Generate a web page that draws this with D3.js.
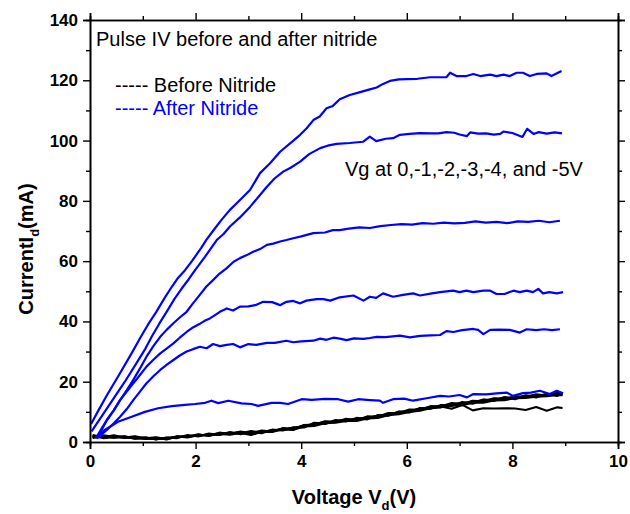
<!DOCTYPE html>
<html>
<head>
<meta charset="utf-8">
<script src="https://cdn.jsdelivr.net/npm/d3@7"></script>
<style>
  html, body { margin: 0; padding: 0; background: #fff; }
  svg { display: block; }
  text { font-family: Arial, "Liberation Sans", Helvetica, sans-serif; }
</style>
</head>
<body>
<svg id="chart" width="630" height="514"></svg>
<script>
// ---------------- DATA ----------------
const xMajorTicks = [0, 2, 4, 6, 8, 10];
const xMinorTicks = [1, 3, 5, 7, 9];
const yMajorTicks = [0, 20, 40, 60, 80, 100, 120, 140];
const yMinorTicks = [10, 30, 50, 70, 90, 110, 130];

const titleText = "Pulse IV before and after nitride";
const legendLabels = ["----- Before Nitride", "----- After Nitride"];
const noteText = "Vg at 0,-1,-2,-3,-4, and -5V";

// After nitride curves: [Vd, Id] for Vg = 0, -1, -2, -3, -4, -5 V
const after0 = [[0.02,6],[0.16,10.5],[0.32,15.5],[0.54,22],[0.79,29.5],[0.95,34.5],[1.1,39],[1.25,43],[1.42,48],[1.55,51.5],[1.67,54.5],[1.8,57],[1.93,60],[2.11,64.5],[2.2,67],[2.35,70.5],[2.49,73.7],[2.65,77],[2.84,80.3],[3.03,83.6],[3.22,89.2],[3.41,92.5],[3.6,96.3],[3.79,99.1],[3.98,101.9],[4.1,104],[4.23,106.8],[4.35,108],[4.48,110.7],[4.6,111.5],[4.73,113.7],[4.92,115.1],[5.1,116],[5.3,117],[5.43,117.6],[5.55,118.8],[5.68,119.8],[5.85,120.3],[6.0,120.4],[6.2,120.5],[6.44,121],[6.6,121],[6.75,121],[6.82,122.5],[6.94,121.4],[7.13,121.4],[7.26,122.1],[7.39,121.4],[7.58,121.9],[7.7,121.4],[7.83,121.9],[7.95,121.4],[8.08,122.5],[8.2,122.5],[8.33,121.4],[8.46,122.1],[8.65,122.3],[8.74,121.4],[8.93,123.1]];
const after1 = [[0.03,3.5],[0.22,8.5],[0.41,13.5],[0.66,20],[0.91,27],[1.05,31],[1.17,35],[1.32,39.5],[1.48,44],[1.6,47.5],[1.74,51],[1.87,54],[1.99,57],[2.18,61.5],[2.3,64.5],[2.4,67],[2.53,69],[2.65,71.5],[2.84,74.5],[3.03,78],[3.2,81.5],[3.35,84.7],[3.5,87.5],[3.66,89.7],[3.8,91],[3.98,93],[4.15,95.5],[4.36,97.5],[4.5,98.3],[4.67,98.9],[4.92,99.2],[5.17,99.6],[5.3,101.3],[5.42,99.8],[5.6,100.6],[5.74,100.8],[5.87,101.9],[6.05,102.2],[6.25,102.5],[6.45,102.4],[6.6,102.4],[6.75,102.8],[6.9,102.6],[7.0,102.0],[7.14,101.5],[7.2,102.7],[7.35,102.3],[7.5,102.4],[7.65,102.0],[7.77,102.2],[7.83,103],[8.0,102.5],[8.19,101.2],[8.28,103.9],[8.4,102.2],[8.5,102.8],[8.65,102.3],[8.8,102.7],[8.94,102.4]];
const after2 = [[0.13,1.8],[0.22,4.5],[0.32,7.3],[0.45,10.5],[0.57,13.9],[0.7,17.3],[0.82,20.6],[0.95,24.5],[1.07,28.3],[1.2,31.8],[1.33,34.9],[1.45,37.2],[1.58,39.4],[1.7,41.3],[1.83,43.2],[1.95,46],[2.08,48.8],[2.2,51.5],[2.33,53.7],[2.45,55.8],[2.59,57.7],[2.72,59.8],[2.84,61],[2.97,62],[3.09,63.1],[3.22,64],[3.35,65.4],[3.47,65.8],[3.6,66.5],[3.72,67],[3.85,67.6],[4.0,68.2],[4.23,69.3],[4.45,69.5],[4.6,70.3],[4.73,70.3],[4.9,70.8],[5.1,71.2],[5.3,71],[5.5,71.6],[5.7,72],[5.9,72.3],[6.1,72.1],[6.3,72.6],[6.5,72.4],[6.7,72.8],[6.9,72.5],[7.1,72.7],[7.3,73.2],[7.5,72.8],[7.7,73],[7.9,72.6],[8.1,73.2],[8.3,73],[8.5,73.4],[8.7,72.9],[8.9,73.4]];
const after3 = [[0.13,1.2],[0.22,4],[0.32,7.3],[0.45,10.5],[0.57,13.9],[0.7,16.8],[0.82,19.5],[0.95,22.3],[1.07,25],[1.2,27.3],[1.33,29.4],[1.45,31],[1.58,32.7],[1.7,34.6],[1.83,36.5],[1.95,38],[2.08,39.2],[2.17,40.2],[2.27,41],[2.36,42],[2.46,43.2],[2.59,44.3],[2.71,43.6],[2.84,44.9],[3.0,45],[3.13,45.4],[3.28,46.5],[3.45,46.4],[3.6,45.4],[3.72,46.5],[3.85,46.8],[3.98,46],[4.1,46.9],[4.29,47.4],[4.42,47.4],[4.55,46.9],[4.73,48],[4.99,48.6],[5.18,46.9],[5.3,48.2],[5.42,47.8],[5.55,49.3],[5.74,48.2],[5.93,48.8],[6.12,49.3],[6.25,48.6],[6.45,49.2],[6.63,49.7],[6.88,50.2],[7.0,49.7],[7.13,50.2],[7.26,49.7],[7.45,50.2],[7.58,50.2],[7.7,49.1],[7.85,49.1],[8.02,50.2],[8.14,49.7],[8.27,50.2],[8.39,49.7],[8.49,50.8],[8.58,49.3],[8.7,49.7],[8.84,49.3],[8.96,49.7]];
const after4 = [[0.13,1.2],[0.22,2.5],[0.32,4],[0.45,6.2],[0.57,8.4],[0.7,11],[0.82,13.9],[0.95,16.8],[1.07,19.5],[1.2,21.8],[1.33,23.9],[1.45,25.6],[1.58,27.2],[1.7,28.7],[1.83,30],[1.95,30.8],[2.08,31.6],[2.21,31.1],[2.33,32.5],[2.46,31.8],[2.59,32.2],[2.71,32.5],[2.84,31.4],[3.0,32.5],[3.15,32.2],[3.35,32.9],[3.5,32.9],[3.72,33.6],[3.85,33.1],[4.0,33.4],[4.23,33.6],[4.36,34.3],[4.48,33.9],[4.61,34.6],[4.73,34.3],[4.86,33.8],[5.0,34.4],[5.18,34.2],[5.3,34.5],[5.43,34.9],[5.6,34.8],[5.87,35.3],[6.06,34.7],[6.25,35.2],[6.45,35.4],[6.63,35.5],[6.75,36.8],[6.88,36.5],[7.05,37.1],[7.26,37.5],[7.35,37.2],[7.45,35.8],[7.58,37.2],[7.75,37.3],[7.95,37.2],[8.14,36.3],[8.27,37.4],[8.45,37.1],[8.6,37.4],[8.75,37.1],[8.9,37.4]];
const after5 = [[0.1,1.3],[0.28,4],[0.53,6.7],[0.79,8.4],[1.04,10],[1.29,11.2],[1.55,11.9],[1.8,12.3],[1.99,12.6],[2.18,13],[2.3,13.7],[2.43,12.9],[2.62,13.7],[2.87,12.8],[3.06,12.6],[3.18,12],[3.44,13],[3.6,13],[3.75,12.6],[4.01,14.2],[4.2,14],[4.45,14.3],[4.7,14.2],[4.89,13.4],[5.08,14.2],[5.3,13.9],[5.49,13.7],[5.55,13],[5.74,14.2],[5.95,14.4],[6.12,13.7],[6.4,14.6],[6.63,15.3],[6.8,15.1],[7.0,15.6],[7.14,14.8],[7.26,15.9],[7.5,15.8],[7.7,16.1],[7.89,16.4],[8.01,15.3],[8.2,16.2],[8.35,16.4],[8.52,17],[8.71,15.9],[8.84,17],[8.96,16.2]];

// Before nitride curves: shared Vd values, Id per curve
const beforeVd = [0.05,0.25,0.45,0.65,0.85,1.05,1.25,1.45,1.65,1.85,2.05,2.25,2.45,2.65,2.85,3.05,3.25,3.45,3.65,3.85,4.05,4.25,4.45,4.65,4.85,5.05,5.25,5.45,5.65,5.85,6.05,6.25,6.45,6.65,6.85,7.05,7.25,7.45,7.65,7.85,8.05,8.25,8.45,8.65,8.85,8.95];
const before0 = [2.3,1.6,2.2,1.5,1.9,1.2,1.6,1.0,1.9,1.7,2.6,2.0,3.1,2.6,3.5,2.9,3.8,3.5,4.6,4.3,5.6,5.8,6.9,6.6,7.7,7.2,8.5,8.4,9.6,9.6,10.8,10.7,11.9,11.8,12.9,12.6,13.7,13.5,14.5,14.3,15.2,14.9,15.8,15.4,16.3,16.0];
const before1 = [1.3,2.0,1.4,1.9,1.1,1.6,0.8,1.5,1.3,2.3,1.8,2.8,2.3,3.3,2.6,3.4,2.9,4.1,3.8,4.9,4.8,6.4,6.0,7.3,6.8,8.0,7.5,8.9,8.7,10.1,9.8,11.3,11.0,12.3,11.9,13.3,12.7,14.1,13.6,14.9,14.2,15.5,14.8,16.0,15.3,16.3];
const before2 = [2.1,1.5,1.9,1.3,1.7,1.0,1.4,0.8,1.8,1.5,2.4,2.1,2.7,2.4,3.0,2.3,3.4,3.3,4.2,4.0,5.2,5.3,6.2,6.4,7.0,7.0,7.8,8.0,8.9,9.2,10.0,10.4,11.2,11.5,12.1,12.2,13.0,13.0,13.8,13.9,14.5,14.6,15.0,15.2,15.6,15.5];
const before3 = [1.6,2.2,1.7,1.8,1.4,1.4,1.1,1.2,1.5,2.0,2.0,2.6,2.5,3.0,2.9,3.6,3.2,4.0,4.0,4.7,5.0,6.2,6.1,7.0,7.2,7.7,7.9,8.8,8.9,10.0,10.2,11.1,11.4,12.0,12.4,13.0,13.2,14.0,14.0,14.7,14.7,15.3,15.3,15.8,15.6,16.2];
const before4 = [1.9,1.3,1.6,1.6,1.2,1.3,0.9,1.4,1.6,1.8,2.3,2.3,2.9,2.8,3.3,2.5,3.6,3.6,4.5,4.4,5.6,5.7,6.7,6.7,7.4,7.3,8.2,8.3,9.4,9.4,10.6,10.6,11.7,11.6,12.7,12.5,13.5,13.4,14.3,14.2,15.0,14.8,15.6,15.3,16.1,15.8];
const before5 = [1.8,1.9,1.5,1.7,1.3,1.1,1.0,1.1,1.7,1.7,2.2,2.4,2.6,3.0,3.1,2.6,3.3,3.8,4.1,4.5,5.2,5.9,6.4,6.9,7.2,7.5,8.0,8.5,9.1,9.7,10.2,10.9,11.3,11.8,11.0,12.3,10.5,11.2,11.1,11.2,11.1,10.6,11.6,10.4,11.5,11.3];

const afterSeries = [after0, after1, after2, after3, after4, after5];
const beforeSeries = [before0, before1, before2, before3, before4, before5];

// ---------------- DRAW ----------------
const svg = d3.select("#chart");
const L = 90, R = 618, T = 20, B = 442;
const x = d3.scaleLinear().domain([0, 10]).range([L, R]);
const y = d3.scaleLinear().domain([0, 140]).range([B, T]);

const blue = "#0000ff";

const line = d3.line().x(d => x(d[0])).y(d => y(d[1]));

// before (black)
const gBefore = svg.append("g");
beforeSeries.forEach(s => {
  const pts = beforeVd.map((v, i) => [v, s[i]]);
  gBefore.append("path").attr("d", line(pts))
    .attr("fill", "none").attr("stroke", "#000").attr("stroke-width", 2.1)
    .attr("stroke-linejoin", "round");
});

// after (blue)
const gAfter = svg.append("g");
afterSeries.forEach(s => {
  gAfter.append("path").attr("d", line(s))
    .attr("fill", "none").attr("stroke", blue).attr("stroke-width", 2.2)
    .attr("stroke-linejoin", "round");
});

// axes
const tickFont = "bold 17px Arial, 'Liberation Sans', sans-serif";
function styleAxis(g) {
  g.selectAll(".domain").attr("stroke", "#000").attr("stroke-width", 1.6);
  g.selectAll(".tick line").attr("stroke", "#000").attr("stroke-width", 1.4);
  g.selectAll(".tick text").style("font", tickFont).attr("fill", "#000");
}

// bottom
const xb = svg.append("g").attr("transform", `translate(0,${B})`)
  .call(d3.axisBottom(x).tickValues(xMajorTicks).tickSize(7).tickPadding(6).tickFormat(d3.format("d")));
styleAxis(xb);
const xbm = svg.append("g").attr("transform", `translate(0,${B})`)
  .call(d3.axisBottom(x).tickValues(xMinorTicks).tickSize(4).tickFormat(""));
styleAxis(xbm);
// top
const xt = svg.append("g").attr("transform", `translate(0,${T})`)
  .call(d3.axisTop(x).tickValues(xMajorTicks).tickSize(7).tickFormat(""));
styleAxis(xt);
const xtm = svg.append("g").attr("transform", `translate(0,${T})`)
  .call(d3.axisTop(x).tickValues(xMinorTicks).tickSize(4).tickFormat(""));
styleAxis(xtm);
// left
const yl = svg.append("g").attr("transform", `translate(${L},0)`)
  .call(d3.axisLeft(y).tickValues(yMajorTicks).tickSize(7).tickPadding(5).tickFormat(d3.format("d")));
styleAxis(yl);
const ylm = svg.append("g").attr("transform", `translate(${L},0)`)
  .call(d3.axisLeft(y).tickValues(yMinorTicks).tickSize(4).tickFormat(""));
styleAxis(ylm);
// right
const yr = svg.append("g").attr("transform", `translate(${R},0)`)
  .call(d3.axisRight(y).tickValues(yMajorTicks).tickSize(7).tickFormat(""));
styleAxis(yr);
const yrm = svg.append("g").attr("transform", `translate(${R},0)`)
  .call(d3.axisRight(y).tickValues(yMinorTicks).tickSize(4).tickFormat(""));
styleAxis(yrm);

// axis titles
const xt1 = svg.append("text")
  .attr("x", (L + R) / 2).attr("y", 504)
  .attr("text-anchor", "middle")
  .style("font", "bold 20px Arial, 'Liberation Sans', sans-serif");
xt1.append("tspan").text("Voltage V");
xt1.append("tspan").attr("dy", 6).style("font-size", "13px").text("d");
xt1.append("tspan").attr("dy", -6).text("(V)");

const yt1 = svg.append("text")
  .attr("transform", `translate(33,${(T + B) / 2 + 18}) rotate(-90)`)
  .attr("text-anchor", "middle")
  .style("font", "bold 20px Arial, 'Liberation Sans', sans-serif");
yt1.append("tspan").text("CurrentI");
yt1.append("tspan").attr("dy", 6).style("font-size", "13px").text("d");
yt1.append("tspan").attr("dy", -6).text("(mA)");

// annotations
const annFont = "20px Arial, 'Liberation Sans', sans-serif";
svg.append("text").attr("x", 96).attr("y", 46).style("font", annFont).attr("fill", "#000").text(titleText);
svg.append("text").attr("x", 115).attr("y", 92).style("font", annFont).attr("fill", "#000").text(legendLabels[0]);
svg.append("text").attr("x", 115).attr("y", 115).style("font", annFont).attr("fill", blue).text(legendLabels[1]);
svg.append("text").attr("x", 345).attr("y", 176).style("font", annFont).attr("fill", "#000").text(noteText);
</script>
</body>
</html>
